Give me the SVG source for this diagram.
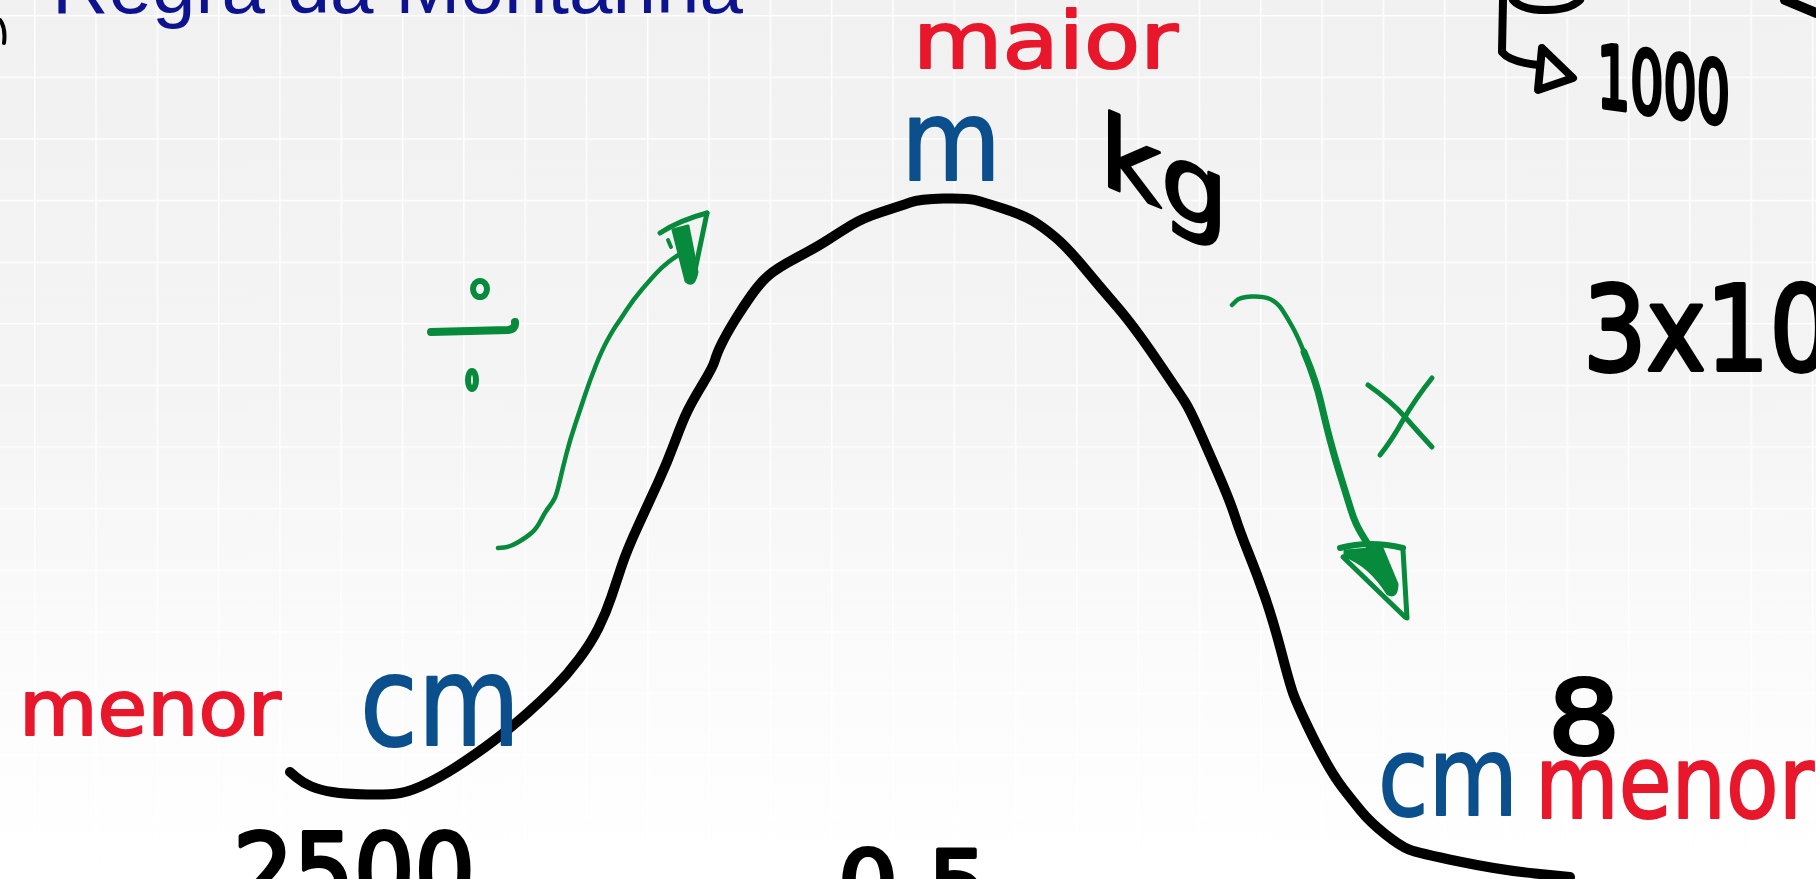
<svg xmlns="http://www.w3.org/2000/svg" width="1816" height="879" viewBox="0 0 1816 879">
  <defs>
    <linearGradient id="bgGrad" x1="0" y1="0" x2="0" y2="1">
      <stop offset="0" stop-color="#f1f1f1"/>
      <stop offset="0.45" stop-color="#f4f4f4"/>
      <stop offset="0.75" stop-color="#fbfbfb"/>
      <stop offset="1" stop-color="#ffffff"/>
    </linearGradient>
    <pattern id="grid" x="34" y="15" width="61.3" height="61.6" patternUnits="userSpaceOnUse">
      <path d="M0,0 V61.6 M0,0 H61.3" fill="none" stroke="#ffffff" stroke-width="3"/>
    </pattern>
  </defs>
  <style>
    .ink { fill: none; stroke-linecap: round; stroke-linejoin: round; }
    .black { stroke: #000000; }
    .green { stroke: #078a3b; }
    .gfill { fill: #078a3b; stroke: #078a3b; stroke-width: 3; stroke-linejoin: round; }
    .hw { font-family: "DejaVu Sans", "Liberation Sans", sans-serif; stroke-linejoin: round; stroke-linecap: round; }
    .red { fill: #e8172b; stroke: #e8172b; }
    .blue { fill: #0b4f8c; stroke: #0b4f8c; }
    .blk { fill: #000000; stroke: #000000; }
    .title { font-family: "Liberation Sans", Arial, sans-serif; fill: #0d138f; }
  </style>

  <g id="background">
    <rect x="0" y="0" width="1816" height="879" fill="url(#bgGrad)"/>
    <rect x="0" y="0" width="1816" height="879" fill="url(#grid)" opacity="0.9"/>
  </g>

  <g id="title">
    <text class="title" x="52" y="13" font-size="78" textLength="691" lengthAdjust="spacingAndGlyphs">Regra da Montanha</text>
  </g>

  <g id="marks">
    <path class="ink black" stroke-width="4" d="M0,20 Q6,28 4,43"/>
    <path class="ink black" stroke-width="8" d="M1513,0 Q1522,10 1546,10 Q1570,10 1580,0"/>
    <path class="ink black" stroke-width="10" d="M1785,0 L1816,13"/>
  </g>

  <g id="mountain">
    <path class="ink black" stroke-width="10" d="M290,772 L296.5,777.5 Q303,783 311.5,786.5 Q320,790 332.5,792 Q345,794 367,794.5 Q389,795 400.5,793 Q412,791 429,782.5 Q446,774 466,760.5 Q486,747 500.5,735.5 Q515,724 527.5,713 Q540,702 553.5,688.5 Q567,675 579,659 Q591,643 598.5,628 Q606,613 611.5,596.5 Q617,580 622,565 Q627,550 638.5,525 Q650,500 658.5,481.5 Q667,463 675,441.5 Q683,420 688,410 Q693,400 703,383.5 Q713,367 715,360 Q717,353 722,343 Q727,333 735,320 Q743,307 751.5,295 Q760,283 768.5,275.5 Q777,268 797,257.5 Q817,247 828.5,239.5 Q840,232 851.5,225 Q863,218 881.5,212 Q900,206 910,202.5 Q920,199 943.5,198.5 Q967,198 975,200 Q983,202 1003,208.5 Q1023,215 1033,221 Q1043,227 1055,237 Q1067,247 1083.5,267 Q1100,287 1116.5,306 Q1133,325 1156.5,359.5 Q1180,394 1185,402 Q1190,410 1198.5,429 Q1207,448 1218.5,474.5 Q1230,501 1235,516.5 Q1240,532 1248.5,553 Q1257,574 1265,597 Q1273,620 1281.5,652.5 Q1290,685 1293.5,694.5 Q1297,704 1307,725 Q1317,746 1326,762 Q1335,778 1343.5,789 Q1352,800 1361,811 Q1370,822 1385,834 Q1400,846 1409,849.5 Q1418,853 1459,861.5 Q1500,870 1535,873.5 L1570,877"/>
  </g>

  <g id="connectors">
    <g id="arrow-up">
      <path class="ink green" stroke-width="4.5" d="M498,548 L504,547.5 Q510,547 518.5,542 Q527,537 532,532.5 Q537,528 541,520 Q545,512 549,507 Q553,502 555,497.5 Q557,493 560,480 Q563,467 566.5,453.5 Q570,440 575,425 Q580,410 585,395 Q590,380 596,365 Q602,350 607.5,340 Q613,330 616.5,325 Q620,320 626.5,310 Q633,300 641.5,290 Q650,280 656,273.5 Q662,267 668.5,262 Q675,257 678.5,255 L682,253"/>
      <path class="ink green" stroke-width="5" d="M660,233 Q680,220 707,213"/>
      <path class="ink green" stroke-width="5" d="M707,213 L693,280"/>
      <path class="gfill" d="M673,230 L688,226 L697,272 Q694,288 686,281 Z"/>
      <path class="ink green" stroke-width="4" d="M668,240 L671,247"/>
    </g>
    <g id="arrow-down">
      <path class="ink green" stroke-width="4.5" d="M1232,305 L1236,301 Q1240,297 1251.5,296.5 Q1263,296 1270,299 Q1277,302 1282,309.5 Q1287,317 1292.5,327 Q1298,337 1304,352 L1310,367"/>
      <path class="ink green" stroke-width="7" d="M1304,352 L1310,367 L1314,378.5 Q1318,390 1321.5,405 Q1325,420 1327.5,430 Q1330,440 1333.5,452.5 Q1337,465 1342,481 Q1347,497 1351,510 Q1355,523 1361,533 Q1367,543 1373.5,553 Q1380,563 1386.5,576.5 L1393,590"/>
      <path class="ink green" stroke-width="6" d="M1340,548 Q1370,540 1403,548"/>
      <path class="ink green" stroke-width="5" d="M1403,550 L1407,618"/>
      <path class="ink green" stroke-width="5" d="M1343,557 L1405,617"/>
      <path class="gfill" d="M1345,551 L1382,548 L1397,584 Q1397,598 1388,594 Q1370,565 1345,556 Z"/>
    </g>
  </g>

  <g id="divide-sign">
    <ellipse class="ink green" stroke-width="6" cx="480" cy="289" rx="7" ry="8"/>
    <path class="ink green" stroke-width="8" d="M431,332 L508,330 Q516,329 515,322"/>
    <ellipse class="ink green" stroke-width="6" cx="472" cy="380" rx="4" ry="9"/>
  </g>

  <g id="times-sign">
    <path class="ink green" stroke-width="5" d="M1368,385 Q1392,402 1405,417 Q1420,434 1432,447"/>
    <path class="ink green" stroke-width="5" d="M1432,378 Q1416,398 1403,420 Q1392,440 1380,455"/>
  </g>

  <g id="label-maior">
    <text class="hw red" x="913" y="68" font-size="78" stroke-width="2" textLength="265" lengthAdjust="spacingAndGlyphs">maior</text>
  </g>
  <g id="label-m">
    <text class="hw blue" x="901" y="180" font-size="112" stroke-width="2" textLength="100" lengthAdjust="spacingAndGlyphs">m</text>
  </g>
  <g id="label-kg">
    <text class="hw blk" x="0" y="0" font-size="100" stroke-width="3" textLength="128" lengthAdjust="spacingAndGlyphs" transform="translate(1100,183) skewY(22)">kg</text>
  </g>
  <g id="label-1000">
    <path class="ink black" stroke-width="8" d="M1503,0 L1502,52 Q1510,62 1538,65"/>
    <path class="ink black" stroke-width="8" d="M1542,48 L1573,78 L1538,90 Z"/>
    <text class="hw blk" x="0" y="0" font-size="86" stroke-width="5" textLength="133" lengthAdjust="spacingAndGlyphs" transform="translate(1597,106) skewY(8)">1000</text>
  </g>
  <g id="label-3x10">
    <text class="hw blk" x="1583" y="370" font-size="118" stroke-width="4" textLength="250" lengthAdjust="spacingAndGlyphs">3x10</text>
  </g>
  <g id="label-menor-left">
    <text class="hw red" x="19" y="735" font-size="76" stroke-width="2" textLength="262" lengthAdjust="spacingAndGlyphs">menor</text>
  </g>
  <g id="label-cm-left">
    <text class="hw blue" x="360" y="745" font-size="125" stroke-width="2" textLength="160" lengthAdjust="spacingAndGlyphs">cm</text>
  </g>
  <g id="label-8">
    <text class="hw blk" x="1548" y="754" font-size="102" stroke-width="4" textLength="72" lengthAdjust="spacingAndGlyphs">8</text>
  </g>
  <g id="label-cm-right">
    <text class="hw blue" x="1378" y="815" font-size="110" stroke-width="2" textLength="140" lengthAdjust="spacingAndGlyphs">cm</text>
  </g>
  <g id="label-menor-right">
    <text class="hw red" x="1535" y="818" font-size="102" stroke-width="2" textLength="279" lengthAdjust="spacingAndGlyphs">menor</text>
  </g>
  <g id="label-2500">
    <text class="hw blk" x="233" y="908" font-size="104" stroke-width="4" textLength="242" lengthAdjust="spacingAndGlyphs">2500</text>
  </g>
  <g id="label-05">
    <text class="hw blk" x="838" y="916" font-size="90" stroke-width="4" textLength="150" lengthAdjust="spacingAndGlyphs">0,5</text>
  </g>
</svg>
